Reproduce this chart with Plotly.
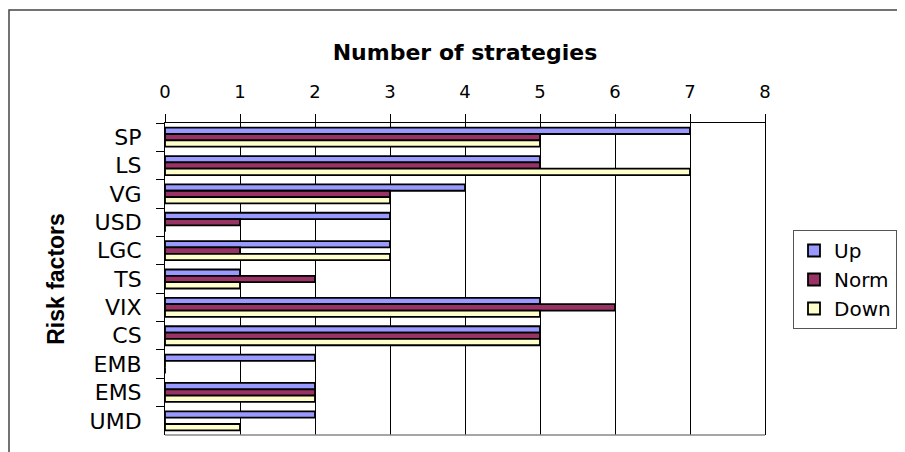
import plotly.graph_objects as go

categories = ["SP", "LS", "VG", "USD", "LGC", "TS", "VIX", "CS", "EMB", "EMS", "UMD"]
up_values = [7, 5, 4, 3, 3, 1, 5, 5, 2, 2, 2]
norm_values = [5, 5, 3, 1, 1, 2, 6, 5, 0, 2, 0]
down_values = [5, 7, 3, 0, 3, 1, 5, 5, 0, 2, 1]
x_ticks = [0, 1, 2, 3, 4, 5, 6, 7, 8]

series = [
    ("Up", up_values, "#9999FF"),
    ("Norm", norm_values, "#993366"),
    ("Down", down_values, "#FFFFCC"),
]

fig = go.Figure()
for name, vals, color in series:
    fig.add_trace(go.Bar(
        y=categories, x=vals, name=name, orientation="h",
        marker=dict(color=color, line=dict(color="black", width=1.8)),
    ))

# figure is placed at page offset (8, 8) by the body margin
W, H = 897, 444
L, T = 157, 115
PW, PH = 600, 312
R = W - L - PW
B = H - T - PH

def px_x(page_x):
    return (page_x - 8 - L) / PW

def px_y(page_y):
    return (T + PH - (page_y - 8)) / PH

fig.update_layout(
    width=W, height=H,
    margin=dict(l=L, r=R, t=T, b=B, autoexpand=False),
    paper_bgcolor="white", plot_bgcolor="white",
    barmode="group", bargap=0.33, bargroupgap=0,
    font=dict(family="DejaVu Sans", color="black", size=19),
    showlegend=True,
    legend=dict(
        x=px_x(793), y=px_y(230), xanchor="left", yanchor="top",
        bordercolor="#555555", borderwidth=1, bgcolor="white",
        font=dict(family="DejaVu Sans", size=20, color="black"),
        tracegroupgap=0, itemwidth=30,
    ),
    xaxis=dict(
        side="top", range=[0, 8], tickvals=x_ticks, ticktext=[str(v) for v in x_ticks],
        showgrid=True, gridcolor="black", gridwidth=1,
        ticks="outside", ticklen=8, tickcolor="black", tickwidth=1,
        showline=True, linecolor="black", linewidth=1,
        zeroline=False, automargin=False,
        tickfont=dict(family="DejaVu Sans", size=18, color="black"),
        ticklabelstandoff=9,
        title=dict(text="<b>Number of strategies</b>", standoff=14,
                   font=dict(family="DejaVu Sans", size=22, color="black")),
    ),
    yaxis=dict(
        autorange="reversed", type="category",
        showgrid=False, ticks="outside", ticklen=8, tickcolor="black", tickwidth=1,
        tickson="boundaries",
        showline=True, linecolor="black", linewidth=1, mirror=True,
        automargin=False,
        tickfont=dict(family="DejaVu Sans", size=22, color="black"),
        ticklabelstandoff=18,
        title=dict(text="<b>Risk factors</b>", standoff=18,
                   font=dict(family="Liberation Sans", size=23, color="black")),
    ),
    shapes=[
        dict(type="line", xref="paper", yref="paper", x0=0, x1=1, y0=0, y1=0,
             line=dict(color="#888888", width=1.5)),
        dict(type="rect", xref="paper", yref="paper",
             x0=px_x(9), x1=px_x(940),
             y0=px_y(480), y1=px_y(10),
             line=dict(color="#444444", width=1.5), fillcolor="rgba(0,0,0,0)", layer="below"),
    ],
)

fig.write_html("out.html")
